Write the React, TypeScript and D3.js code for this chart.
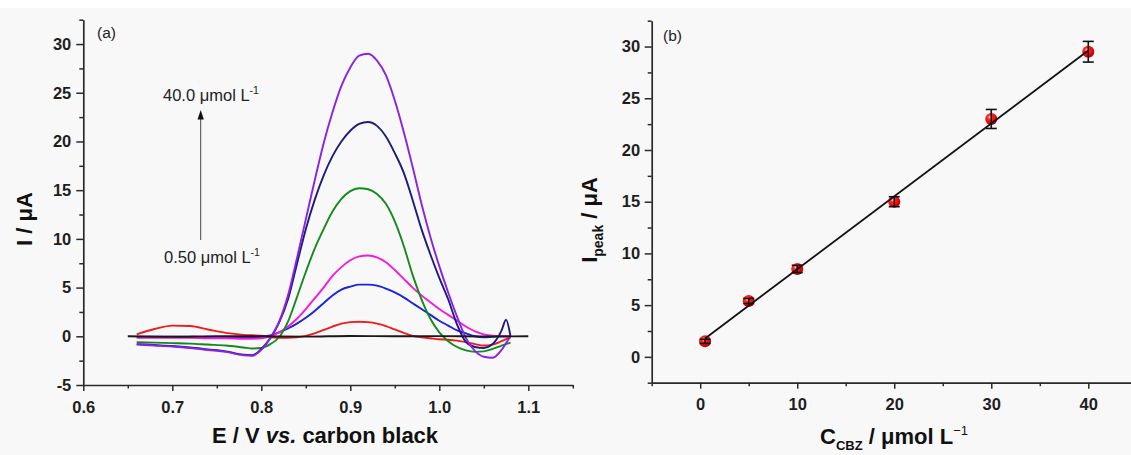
import { useEffect, useRef } from "react";
import * as d3 from "d3";

const W = 1131;
const H = 455;
const FONT = "'Liberation Sans', Arial, Helvetica, sans-serif";
const AXIS = "#2a2a2a";

// (a) potential grid (V) shared by the DPV curves
const potentials = [
  0.66, 0.68, 0.7, 0.72, 0.74, 0.76, 0.78,
  0.79, 0.8, 0.81, 0.82, 0.83, 0.84, 0.85, 0.86, 0.87, 0.88,
  0.89, 0.9, 0.91, 0.92, 0.93, 0.94, 0.95, 0.96, 0.97, 0.98,
  0.99, 1.0, 1.01, 1.02, 1.03, 1.04, 1.05, 1.06, 1.07,
  1.075, 1.08,
];

// currents (µA), one list per concentration
const current05 = [
  0.2, 0.75, 1.1, 1.05, 0.7, 0.35, 0.15,
  0.1, 0.05, -0.1, -0.15, -0.15, -0.1, 0.05, 0.3, 0.65, 1.0,
  1.3, 1.45, 1.5, 1.45, 1.3, 1.05, 0.7, 0.35, 0.05, -0.1,
  -0.2, -0.3, -0.35, -0.45, -0.6, -0.8, -0.95, -0.85, -0.5,
  -0.3, -0.1,
];
const current5 = [
  -0.05, -0.05, -0.05, -0.05, -0.08, -0.08, -0.1,
  -0.1, -0.05, 0.1, 0.4, 0.8, 1.3, 1.9, 2.6, 3.4, 4.2,
  4.8, 5.1, 5.3, 5.3, 5.2, 4.9, 4.5, 4.0, 3.4, 2.8,
  2.2, 1.6, 1.1, 0.6, 0.3, 0.0, -0.1, -0.05, 0,
  0, 0,
];
const current10 = [
  -0.15, -0.15, -0.15, -0.15, -0.2, -0.2, -0.25,
  -0.25, -0.2, 0.0, 0.4, 1.0, 1.8, 2.8, 3.9, 5.0, 6.2,
  7.1, 7.8, 8.2, 8.3, 8.1, 7.6, 6.8, 5.9, 5.0, 4.2,
  3.5, 2.8, 2.2, 1.6, 1.0, 0.5, 0.2, 0.05, 0,
  0, 0,
];
const current20 = [
  -0.6, -0.65, -0.7, -0.75, -0.85, -0.95, -1.15,
  -1.25, -1.2, -0.8, -0.1, 1.5, 4.0, 6.6, 9.0, 11.0, 12.8,
  14.1, 14.9, 15.2, 15.1, 14.6, 13.6, 11.8, 9.3, 6.3, 3.8,
  1.8, 0.4, -0.5, -1.1, -1.45, -1.6, -1.55, -1.3, -0.95,
  -0.8, -0.65,
];
const current30 = [
  -0.8, -0.9, -1.0, -1.15, -1.35, -1.55, -1.9,
  -1.95, -1.3, -0.2, 1.4, 3.8, 7.4, 11.0, 14.0, 16.5, 18.5,
  20.0, 21.1, 21.8, 22.0, 21.6, 20.5, 18.8, 16.8, 14.0, 11.0,
  8.4, 6.0, 3.8, 1.2, -0.6, -1.1, -1.2, -0.8, 0.6,
  1.7, 0,
];
const current40 = [
  -0.85, -0.95, -1.05, -1.2, -1.4, -1.6, -1.95,
  -2.0, -1.4, -0.2, 1.5, 4.2, 8.0, 12.0, 16.0, 19.8, 23.0,
  25.7, 27.6, 28.8, 29.0, 28.3, 26.8, 24.2, 21.0, 17.4, 13.6,
  10.2, 7.2, 4.5, 2.0, -0.2, -1.5, -2.1, -2.2, -1.4,
  -0.7, 0,
];
const seriesCurrents = [current05, current5, current10, current20, current30, current40];
const seriesColors = ["#f01c1c", "#1c22e0", "#f21cd8", "#138a1c", "#1c1c7a", "#8a22e6"];

// blank (supporting electrolyte only)
const blankPotentials = [0.65, 0.7, 0.75, 0.8, 0.85, 0.9, 0.95, 1.0, 1.05, 1.1];
const blankCurrent = [0, -0.05, 0.02, 0, -0.03, 0.03, 0, 0.02, -0.02, 0];

// (b) calibration
const concentrations = [0.5, 5, 10, 20, 30, 40];
const peakCurrents = [1.5, 5.4, 8.5, 15.0, 23.0, 29.5];
const peakErrors = [0.2, 0.25, 0.35, 0.48, 0.92, 1.0];

// ticks
const voltTicks = [0.6, 0.7, 0.8, 0.9, 1.0, 1.1];
const voltMinor = [0.65, 0.75, 0.85, 0.95, 1.05, 1.15];
const currentTicks = [-5, 0, 5, 10, 15, 20, 25, 30];
const currentMinor = [-2.5, 2.5, 7.5, 12.5, 17.5, 22.5, 27.5, 32.5];
const concTicks = [0, 10, 20, 30, 40];
const concMinor = [-5, 5, 15, 25, 35, 45];
const peakTicks = [0, 5, 10, 15, 20, 25, 30];
const peakMinor = [-2.5, 2.5, 7.5, 12.5, 17.5, 22.5, 27.5, 32.5];

const intFmt = (d) => String(d);

function drawAxes(svg, x, y, o) {
  const y0 = y.range()[0];
  const x0 = x.range()[0];

  const gx = svg.append("g").attr("transform", `translate(0,${y0})`)
    .call(d3.axisBottom(x).tickValues(o.xMajor).tickSize(6).tickSizeOuter(0)
      .tickPadding(o.xPad).tickFormat(o.xFmt));
  const gxm = svg.append("g").attr("transform", `translate(0,${y0})`)
    .call(d3.axisBottom(x).tickValues(o.xMinor).tickSize(3.5).tickSizeOuter(0).tickFormat(() => ""));
  gxm.select(".domain").remove();

  const gy = svg.append("g").attr("transform", `translate(${x0},0)`)
    .call(d3.axisLeft(y).tickValues(o.yMajor).tickSize(7).tickSizeOuter(0)
      .tickPadding(o.yPad).tickFormat(intFmt));
  const gym = svg.append("g").attr("transform", `translate(${x0},0)`)
    .call(d3.axisLeft(y).tickValues(o.yMinor).tickSize(4).tickSizeOuter(0).tickFormat(() => ""));
  gym.select(".domain").remove();

  [gx, gxm, gy, gym].forEach((g) => {
    g.attr("font-family", null).attr("font-size", null);
    g.select(".domain").attr("stroke", AXIS).attr("stroke-width", 1.7);
    g.selectAll(".tick line").attr("stroke", AXIS).attr("stroke-width", 1.5);
    g.selectAll("text")
      .style("font-family", FONT)
      .style("font-size", "16.5px")
      .style("font-weight", "700")
      .attr("fill", "#1e1e1e");
  });
}

export default function App() {
  const ref = useRef(null);

  useEffect(() => {
    if (!ref.current) return;
    const svg = d3.select(ref.current);
    svg.selectAll("*").remove();

    svg.append("rect").attr("x", 0).attr("y", 8).attr("width", W).attr("height", H - 8).attr("fill", "#f8f8f8");

    // ---------- panel (a) ----------
    const xA = d3.scaleLinear().domain([0.6, 1.15]).range([83.3, 572.8]);
    const yA = d3.scaleLinear().domain([-5, 32.5]).range([385, 19.7]);

    drawAxes(svg, xA, yA, {
      xMajor: voltTicks, xMinor: voltMinor, yMajor: currentTicks, yMinor: currentMinor,
      xFmt: d3.format(".1f"), xPad: 10.5, yPad: 5,
    });

    const line = d3.line().curve(d3.curveMonotoneX);

    seriesCurrents.forEach((vals, i) => {
      svg.append("path")
        .attr("d", line(potentials.map((e, k) => [xA(e), yA(vals[k])])))
        .attr("fill", "none")
        .attr("stroke", seriesColors[i])
        .attr("stroke-width", 1.9)
        .attr("stroke-linejoin", "round");
    });

    svg.append("path")
      .attr("d", line(blankPotentials.map((e, k) => [xA(e), yA(blankCurrent[k])])))
      .attr("fill", "none")
      .attr("stroke", "#1a1a1a")
      .attr("stroke-width", 1.9);

    // concentration arrow
    const ax = 200.7;
    svg.append("line")
      .attr("x1", ax).attr("x2", ax)
      .attr("y1", 240).attr("y2", 118)
      .attr("stroke", "#444").attr("stroke-width", 1);
    svg.append("path")
      .attr("d", `M${ax},110 L${ax - 3.2},119.5 L${ax + 3.2},119.5 Z`)
      .attr("fill", "#111");

    const note = (x, y, txt) => {
      const t = svg.append("text").attr("x", x).attr("y", y)
        .attr("font-family", FONT).attr("font-size", 16.5).attr("fill", "#222");
      t.append("tspan").text(txt);
      t.append("tspan").attr("font-size", 10.5).attr("dy", -7).text("-1");
    };
    note(163, 101, "40.0 \u03bcmol L");
    note(164, 263, "0.50 \u03bcmol L");

    svg.append("text").attr("x", 97).attr("y", 38)
      .attr("font-family", FONT).attr("font-size", 15.5).attr("fill", "#222").text("(a)");

    // axis titles (a)
    const xt = svg.append("text").attr("x", 325).attr("y", 443).attr("text-anchor", "middle")
      .attr("font-family", FONT).attr("font-size", 22).attr("font-weight", "bold").attr("fill", "#111");
    xt.append("tspan").text("E / V ");
    xt.append("tspan").attr("font-style", "italic").text("vs.");
    xt.append("tspan").text(" carbon black");

    svg.append("text")
      .attr("transform", "translate(31.5,219) rotate(-90)")
      .attr("text-anchor", "middle")
      .attr("font-family", FONT).attr("font-size", 22).attr("font-weight", "bold").attr("fill", "#111")
      .text("I / \u03bcA");

    // ---------- panel (b) ----------
    const xB = d3.scaleLinear().domain([-5, 45]).range([651.7, 1136.8]);
    const yB = d3.scaleLinear().domain([-2.5, 32.5]).range([382.7, 20.7]);

    drawAxes(svg, xB, yB, {
      xMajor: concTicks, xMinor: concMinor, yMajor: peakTicks, yMinor: peakMinor,
      xFmt: intFmt, xPad: 9.2, yPad: 4.5,
    });

    // linear fit
    const mx = d3.mean(concentrations);
    const my = d3.mean(peakCurrents);
    let sxy = 0;
    let sxx = 0;
    concentrations.forEach((c, i) => {
      sxy += (c - mx) * (peakCurrents[i] - my);
      sxx += (c - mx) ** 2;
    });
    const slope = sxy / sxx;
    const intercept = my - slope * mx;

    const defs = svg.append("defs");
    const grad = defs.append("radialGradient").attr("id", "ball")
      .attr("cx", "38%").attr("cy", "35%").attr("r", "65%");
    grad.append("stop").attr("offset", "0%").attr("stop-color", "#ffd8d8");
    grad.append("stop").attr("offset", "28%").attr("stop-color", "#ff2a2a");
    grad.append("stop").attr("offset", "80%").attr("stop-color", "#e30000");
    grad.append("stop").attr("offset", "100%").attr("stop-color", "#a80000");

    svg.selectAll(".pt")
      .data(concentrations)
      .enter()
      .append("circle")
      .attr("class", "pt")
      .attr("cx", (d) => xB(d))
      .attr("cy", (d, i) => yB(peakCurrents[i]))
      .attr("r", 6)
      .attr("fill", "url(#ball)");

    const cMin = d3.min(concentrations);
    const cMax = d3.max(concentrations);
    svg.append("line")
      .attr("x1", xB(cMin)).attr("y1", yB(intercept + slope * cMin))
      .attr("x2", xB(cMax)).attr("y2", yB(intercept + slope * cMax))
      .attr("stroke", "#111").attr("stroke-width", 1.8);

    const eb = svg.append("g").attr("stroke", "#111").attr("stroke-width", 1.6);
    concentrations.forEach((c, i) => {
      const cx = xB(c);
      const top = yB(peakCurrents[i] + peakErrors[i]);
      const bot = yB(peakCurrents[i] - peakErrors[i]);
      eb.append("line").attr("x1", cx).attr("x2", cx).attr("y1", top).attr("y2", bot);
      eb.append("line").attr("x1", cx - 5.5).attr("x2", cx + 5.5).attr("y1", top).attr("y2", top);
      eb.append("line").attr("x1", cx - 5.5).attr("x2", cx + 5.5).attr("y1", bot).attr("y2", bot);
    });

    svg.append("text").attr("x", 663).attr("y", 41)
      .attr("font-family", FONT).attr("font-size", 15.5).attr("fill", "#222").text("(b)");

    const bx = svg.append("text").attr("x", 894).attr("y", 444).attr("text-anchor", "middle")
      .attr("font-family", FONT).attr("font-size", 22).attr("font-weight", "bold").attr("fill", "#111");
    bx.append("tspan").text("C");
    bx.append("tspan").attr("font-size", 13).attr("dy", 6).text("CBZ");
    bx.append("tspan").attr("dy", -6).text(" / \u03bcmol L");
    bx.append("tspan").attr("font-size", 13).attr("font-weight", "normal").attr("dy", -9).text("\u22121");

    const by = svg.append("text")
      .attr("transform", "translate(597,220) rotate(-90)")
      .attr("text-anchor", "middle")
      .attr("font-family", FONT).attr("font-size", 22).attr("font-weight", "bold").attr("fill", "#111");
    by.append("tspan").text("I");
    by.append("tspan").attr("font-size", 14).attr("dy", 6).text("peak");
    by.append("tspan").attr("dy", -6).text(" / \u03bcA");
  }, []);

  return (
    <svg
      ref={ref}
      width={W}
      height={H}
      style={{ position: "fixed", left: 0, top: 0, display: "block", background: "#fff" }}
    />
  );
}
